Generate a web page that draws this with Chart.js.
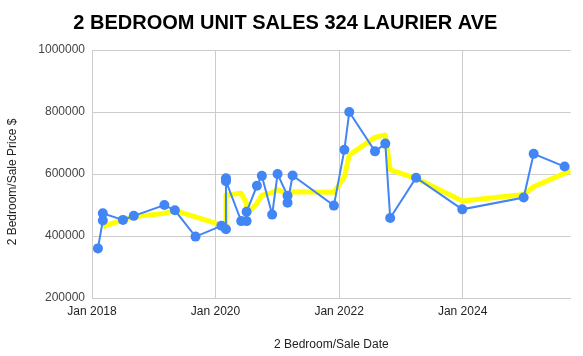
<!DOCTYPE html>
<html><head><meta charset="utf-8">
<script src="https://cdn.jsdelivr.net/npm/chart.js@4.4.1/dist/chart.umd.min.js"></script>
<style>html,body{margin:0;padding:0;background:#fff;overflow:hidden}#wrap{width:583px;height:356px;position:relative}</style>
</head><body><div id="wrap"><canvas id="c" width="583" height="356"></canvas></div>
<script>
const chartTitle = '2 BEDROOM UNIT SALES 324 LAURIER AVE';
const xAxisTitle = '2 Bedroom/Sale Date';
const yAxisTitle = '2 Bedroom/Sale Price $';

const saleDates = ['2018-02-05','2018-03-06','2018-03-06','2018-07-03','2018-09-05','2019-03-05','2019-05-06','2019-09-05',
  '2020-02-05','2020-03-03','2020-03-03','2020-03-03','2020-06-01','2020-07-03','2020-07-03','2020-09-02','2020-10-01',
  '2020-12-01','2021-01-02','2021-03-02','2021-03-02','2021-04-01','2021-12-01','2022-02-01','2022-03-02','2022-08-01',
  '2022-10-01','2022-10-30','2023-04-01','2023-12-30','2024-12-27','2025-02-24','2025-08-26'];
const salePrices = [360000,450000,473000,452000,465000,500000,483000,398000,
  433000,422000,586000,577000,448000,448000,478000,562000,594000,
  469000,600000,530000,507000,595000,498000,678000,800000,673000,
  698000,458000,588000,486000,524000,665000,624000];

const trendDates = ['2018-03-06','2018-07-03','2018-09-05','2019-03-05','2019-05-06','2020-02-05','2020-03-03','2020-03-03',
  '2020-06-01','2020-07-03','2020-07-03','2020-09-02','2020-10-01','2020-12-01','2021-01-02','2021-03-02','2021-04-01',
  '2021-12-01','2022-02-01','2022-03-02','2022-08-01','2022-10-01','2022-10-30','2023-04-01','2023-12-30','2024-12-27',
  '2025-02-24','2025-10-01'];
const trendPrices = [430000,452000,462000,473000,482000,436000,432000,532000,
  538000,505000,470000,505000,532000,540000,550000,535000,543000,
  541000,591000,661000,718000,726000,613000,586000,513000,534000,
  559000,611000];

const xTickDates = ['2018-01-01','2020-01-01','2022-01-01','2024-01-01'];
const xTickLabels = ['Jan 2018','Jan 2020','Jan 2022','Jan 2024'];
const xRange = ['2018-01-01','2025-10-01'];
const yRange = [200000, 1000000];
const yStep = 200000;

const FONT = "'Liberation Sans', Arial, sans-serif";
const t = d => Date.parse(d);

const yTitlePlugin = {
  id: 'yTitle',
  afterDraw(chart) {
    const ctx = chart.ctx;
    ctx.save();
    ctx.translate(13, 182);
    ctx.rotate(-Math.PI / 2);
    ctx.font = '12px ' + FONT;
    ctx.fillStyle = '#222';
    ctx.textAlign = 'center';
    ctx.textBaseline = 'middle';
    ctx.fillText(yAxisTitle, 0, 0);
    ctx.restore();
  }
};

new Chart(document.getElementById('c'), {
  type: 'line',
  data: {
    datasets: [
      {
        label: 'Sale Price',
        data: saleDates.map((d, i) => ({x: t(d), y: salePrices[i]})),
        borderColor: '#4285F4',
        backgroundColor: '#4285F4',
        borderWidth: 2,
        pointRadius: 5,
        pointBorderWidth: 0,
        pointBackgroundColor: '#4285F4',
        tension: 0,
        order: 0
      },
      {
        label: 'Trend',
        data: trendDates.map((d, i) => ({x: t(d), y: trendPrices[i]})),
        borderColor: '#ffff00',
        borderWidth: 5,
        pointRadius: 0,
        borderJoinStyle: 'round',
        tension: 0,
        order: 1
      }
    ]
  },
  plugins: [yTitlePlugin],
  options: {
    responsive: false,
    animation: false,
    devicePixelRatio: 1,
    layout: {padding: {left: 0, right: 12.3, top: 0, bottom: 0}},
    plugins: {
      legend: {display: false},
      tooltip: {enabled: false},
      title: {
        display: true,
        text: chartTitle,
        color: '#000',
        font: {family: FONT, size: 20, weight: 'bold'},
        padding: {top: 11.5, bottom: 14.5}
      }
    },
    scales: {
      x: {
        type: 'linear',
        min: t(xRange[0]),
        max: t(xRange[1]),
        afterBuildTicks: s => { s.ticks = xTickDates.map(d => ({value: t(d)})); },
        afterFit: s => { s.height = 58; },
        grid: {color: '#cccccc', lineWidth: 1, drawTicks: false},
        border: {display: true, color: '#cccccc'},
        ticks: {
          padding: 6,
          color: '#222',
          font: {family: FONT, size: 12},
          maxRotation: 0,
          callback: v => { const i = xTickDates.findIndex(d => t(d) === v); return i >= 0 ? xTickLabels[i] : ''; }
        },
        title: {display: true, text: xAxisTitle, color: '#222', font: {family: FONT, size: 12}, padding: {top: 0, bottom: 4}}
      },
      y: {
        min: yRange[0],
        max: yRange[1],
        afterFit: s => { s.width = 92; },
        grid: {color: '#cccccc', lineWidth: 1, drawTicks: false},
        border: {display: true, color: '#cccccc'},
        ticks: {
          stepSize: yStep,
          padding: 7,
          color: '#444',
          font: {family: FONT, size: 12},
          callback: v => String(v)
        },
        title: {display: false}
      }
    }
  }
});
</script>
</body></html>
